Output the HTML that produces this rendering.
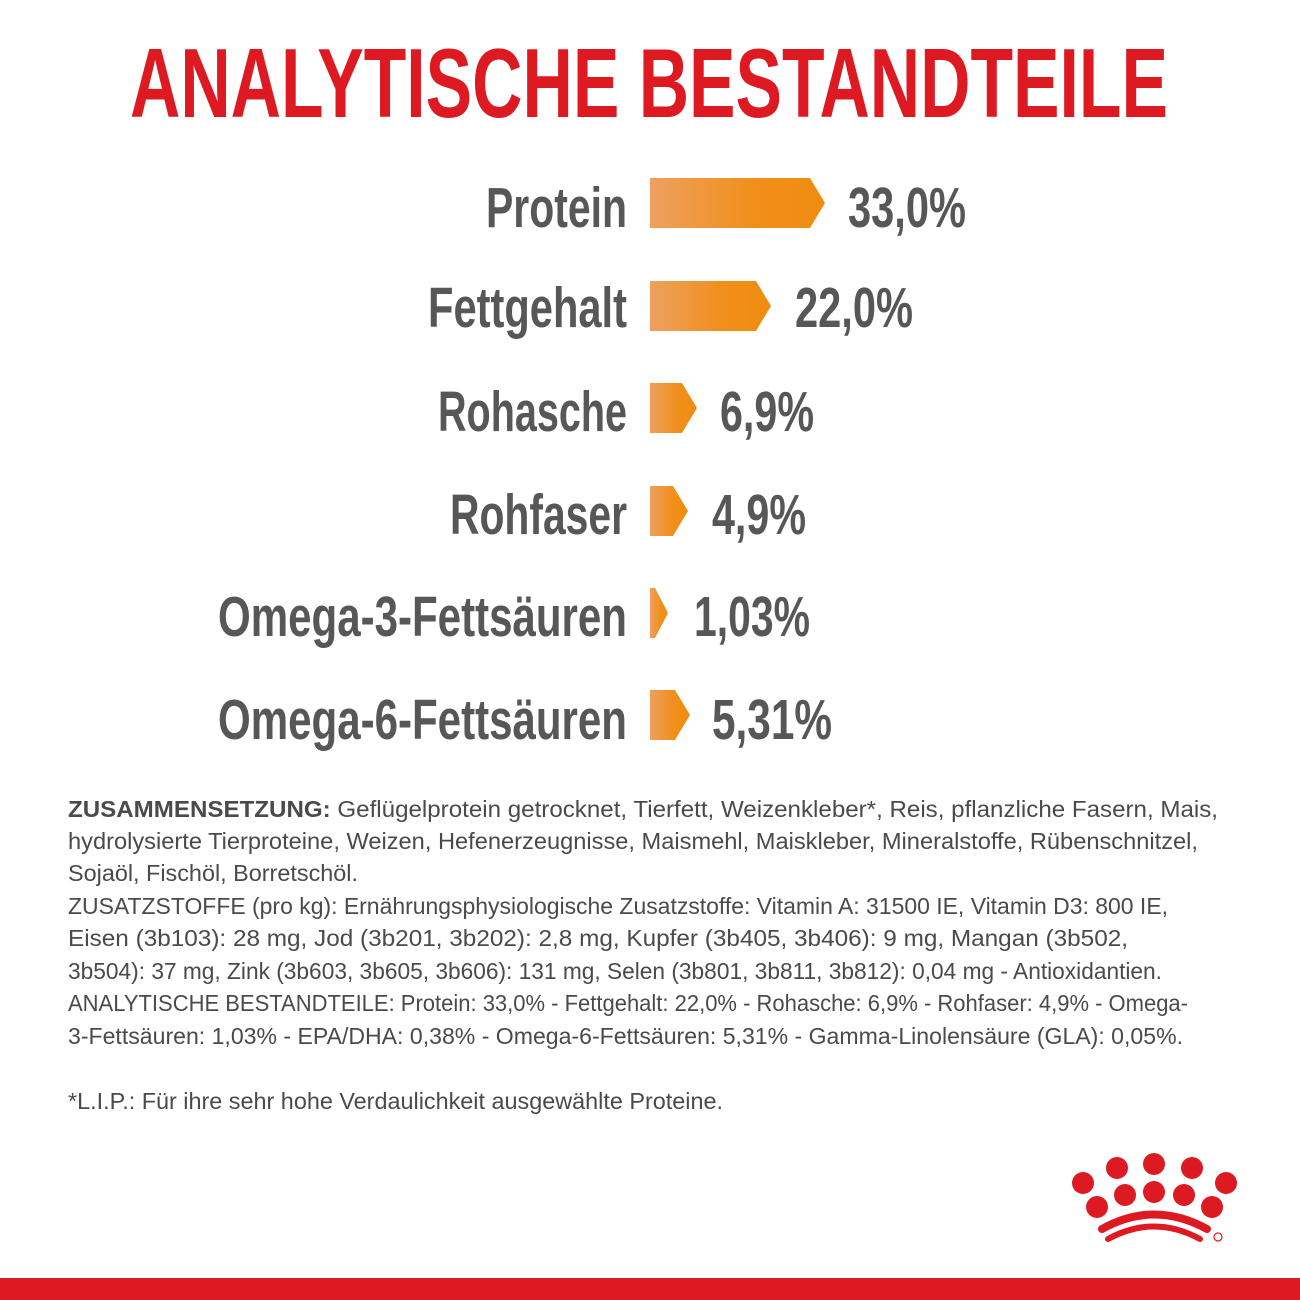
<!DOCTYPE html><html><head><meta charset="utf-8"><style>html,body{margin:0;padding:0;background:#fff}svg{display:block}</style></head><body>
<svg width="1300" height="1300" viewBox="0 0 1300 1300" xmlns="http://www.w3.org/2000/svg">
<defs><linearGradient id="g" x1="0" x2="1"><stop offset="0" stop-color="#eea060"/><stop offset="0.6" stop-color="#f08f1a"/><stop offset="1" stop-color="#ef8c10"/></linearGradient></defs>
<rect width="1300" height="1300" fill="#fff"/>
<text x="130" y="117" font-family="Liberation Sans, sans-serif" font-weight="bold" font-size="98" fill="#dd1a22" textLength="1038" lengthAdjust="spacingAndGlyphs">ANALYTISCHE BESTANDTEILE</text>
<g font-family="Liberation Sans, sans-serif" font-weight="bold" font-size="57" fill="#575757">
<text x="486" y="227" textLength="141" lengthAdjust="spacingAndGlyphs">Protein</text>
<text x="428" y="327" textLength="199" lengthAdjust="spacingAndGlyphs">Fettgehalt</text>
<text x="438" y="431" textLength="189" lengthAdjust="spacingAndGlyphs">Rohasche</text>
<text x="450" y="534" textLength="177" lengthAdjust="spacingAndGlyphs">Rohfaser</text>
<text x="218" y="636" textLength="409" lengthAdjust="spacingAndGlyphs">Omega-3-Fettsäuren</text>
<text x="218" y="739" textLength="409" lengthAdjust="spacingAndGlyphs">Omega-6-Fettsäuren</text>
<text x="848" y="227" textLength="118" lengthAdjust="spacingAndGlyphs">33,0%</text>
<text x="795" y="327" textLength="118" lengthAdjust="spacingAndGlyphs">22,0%</text>
<text x="720" y="431" textLength="94" lengthAdjust="spacingAndGlyphs">6,9%</text>
<text x="712" y="534" textLength="94" lengthAdjust="spacingAndGlyphs">4,9%</text>
<text x="694" y="636" textLength="116" lengthAdjust="spacingAndGlyphs">1,03%</text>
<text x="712" y="739" textLength="120" lengthAdjust="spacingAndGlyphs">5,31%</text>
</g>
<g fill="url(#g)">
<polygon points="650,178 810,178 825,203 810,228 650,228"/>
<polygon points="650,281 756,281 771,306 756,331 650,331"/>
<polygon points="650,383 682,383 697,408 682,433 650,433"/>
<polygon points="650,486 673,486 688,511 673,536 650,536"/>
<polygon points="650,588 655,588 668,613 655,638 650,638"/>
<polygon points="650,690 675,690 690,715 675,740 650,740"/>
</g>
<g font-family="Liberation Sans, sans-serif" font-size="23" fill="#4a4a4a">
<text x="68" y="817" textLength="1150" lengthAdjust="spacingAndGlyphs"><tspan font-weight="bold">ZUSAMMENSETZUNG:</tspan> Geflügelprotein getrocknet, Tierfett, Weizenkleber*, Reis, pflanzliche Fasern, Mais,</text>
<text x="68" y="849" textLength="1130" lengthAdjust="spacingAndGlyphs">hydrolysierte Tierproteine, Weizen, Hefenerzeugnisse, Maismehl, Maiskleber, Mineralstoffe, Rübenschnitzel,</text>
<text x="68" y="881" textLength="290" lengthAdjust="spacingAndGlyphs">Sojaöl, Fischöl, Borretschöl.</text>
<text x="68" y="914" textLength="1100" lengthAdjust="spacingAndGlyphs">ZUSATZSTOFFE (pro kg): Ernährungsphysiologische Zusatzstoffe: Vitamin A: 31500 IE, Vitamin D3: 800 IE,</text>
<text x="68" y="946" textLength="1060" lengthAdjust="spacingAndGlyphs">Eisen (3b103): 28 mg, Jod (3b201, 3b202): 2,8 mg, Kupfer (3b405, 3b406): 9 mg, Mangan (3b502,</text>
<text x="68" y="979" textLength="1094" lengthAdjust="spacingAndGlyphs">3b504): 37 mg, Zink (3b603, 3b605, 3b606): 131 mg, Selen (3b801, 3b811, 3b812): 0,04 mg - Antioxidantien.</text>
<text x="68" y="1011" textLength="1120" lengthAdjust="spacingAndGlyphs">ANALYTISCHE BESTANDTEILE: Protein: 33,0% - Fettgehalt: 22,0% - Rohasche: 6,9% - Rohfaser: 4,9% - Omega-</text>
<text x="68" y="1044" textLength="1115" lengthAdjust="spacingAndGlyphs">3-Fettsäuren: 1,03% - EPA/DHA: 0,38% - Omega-6-Fettsäuren: 5,31% - Gamma-Linolensäure (GLA): 0,05%.</text>
<text x="68" y="1109" textLength="655" lengthAdjust="spacingAndGlyphs">*L.I.P.: Für ihre sehr hohe Verdaulichkeit ausgewählte Proteine.</text>
</g>
<g fill="#dd1a22">
<circle cx="1083" cy="1183" r="11"/><circle cx="1117" cy="1168" r="11"/><circle cx="1154" cy="1164" r="11"/><circle cx="1192" cy="1168" r="11"/><circle cx="1226" cy="1183" r="11"/>
<circle cx="1097" cy="1207" r="11"/><circle cx="1125" cy="1195" r="11"/><circle cx="1154" cy="1192" r="11"/><circle cx="1184" cy="1195" r="11"/><circle cx="1212" cy="1207" r="11"/>
</g>
<g fill="none" stroke="#dd1a22" stroke-linecap="round">
<path d="M1102,1229 Q1154,1200 1207,1229" stroke-width="8"/>
<path d="M1108,1239 Q1154,1214 1200,1239" stroke-width="6"/>
</g>
<circle cx="1218" cy="1237" r="4" fill="none" stroke="#dd1a22" stroke-width="1.2"/>
<rect x="0" y="1278" width="1300" height="22" fill="#dd1a22"/>
</svg>
</body></html>
